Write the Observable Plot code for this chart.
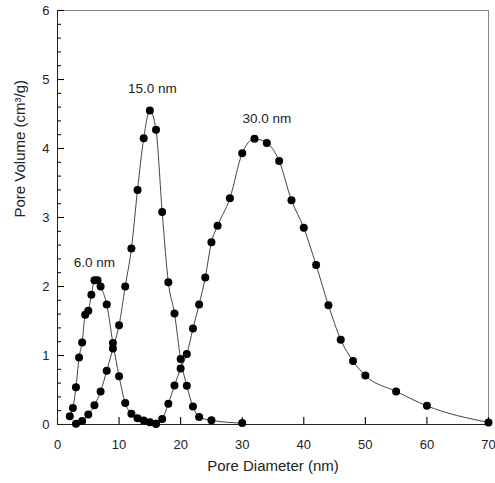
<!DOCTYPE html>
<html>
<head>
<meta charset="utf-8">
<script src="https://cdn.jsdelivr.net/npm/d3@7"></script>
<script src="https://cdn.jsdelivr.net/npm/@observablehq/plot@0.6"></script>
<style>
  html, body { margin: 0; padding: 0; background: #fff; }
  #chart svg { font-family: "Liberation Sans", Arial, sans-serif; }
</style>
</head>
<body>
<div id="chart"></div>
<script>
// Series: [pore diameter (nm), pore volume (cm3/g)]
const series6 = [[2,0.12],[2.5,0.24],[3,0.54],[3.5,0.97],[4,1.19],[4.5,1.59],[5,1.65],[5.5,1.88],[6,2.09],[6.5,2.09],[7,2.0],[8,1.74],[9,1.18],[10,0.70],[11,0.31],[12,0.155],[13,0.09],[14,0.058],[15,0.034],[16,0.01]];
const series15 = [[3,0.01],[4,0.05],[5,0.145],[6,0.28],[7,0.48],[8,0.78],[9,1.10],[10,1.44],[11,2.0],[12,2.55],[13,3.40],[14,4.15],[15,4.55],[16,4.27],[17,3.08],[18,2.06],[19,1.61],[20,0.95],[21,0.56],[22,0.26],[23,0.11],[25,0.06],[30,0.02]];
const series30 = [[16,0.01],[17,0.08],[18,0.30],[19,0.565],[20,0.81],[21,1.02],[22,1.39],[23,1.74],[24,2.13],[25,2.64],[26,2.88],[28,3.28],[30,3.93],[32,4.14],[34,4.08],[36,3.82],[38,3.25],[40,2.85],[42,2.31],[44,1.73],[46,1.23],[48,0.92],[50,0.71],[55,0.48],[60,0.27],[70,0.03]];
const peakLabels = ["6.0 nm", "15.0 nm", "30.0 nm"];
const peakLabelX = [6, 15.4, 34];
const peakLabelY = [2.35, 4.87, 4.43];
const xTitle = "Pore Diameter (nm)";
const yTitle = "Pore Volume (cm³/g)";
const xTicks = [0,10,20,30,40,50,60,70];
const yTicks = [0,1,2,3,4,5,6];
const yMinorTicks = d3.range(0, 6.01, 0.2).map(v => +v.toFixed(1)).filter(v => !yTicks.includes(v));

const toRows = (arr, name) => arr.map(([x, y]) => ({x, y, series: name}));
const rows = [...toRows(series6, "6"), ...toRows(series15, "15"), ...toRows(series30, "30")];
const labels = peakLabels.map((t, i) => ({t, x: peakLabelX[i], y: peakLabelY[i]}));

const W = 495, H = 483, ML = 57, MR = 7, MT = 10, MB = 59;
const innerW = W - ML - MR, innerH = H - MT - MB;

const chart = Plot.plot({
  width: W,
  height: H,
  marginLeft: ML,
  marginRight: MR,
  marginTop: MT,
  marginBottom: MB,
  style: {fontSize: "13px", color: "#222", background: "#fff", fontFamily: "Liberation Sans, Arial, sans-serif"},
  x: {domain: [0, 70]},
  y: {domain: [0, 6]},
  marks: [
    Plot.frame({stroke: "#888"}),
    // tick labels
    Plot.axisX(xTicks, {tickSize: 0, tickPadding: 15, tickFormat: "d", label: null}),
    Plot.axisY(yTicks, {tickSize: 0, tickPadding: 8, tickFormat: "d", label: null}),
    // inward ticks
    Plot.ruleX(xTicks, {insetTop: innerH - 7, stroke: "#000", strokeWidth: 1.1}),
    Plot.ruleY(yTicks, {insetRight: innerW - 7, stroke: "#000", strokeWidth: 1.1}),
    Plot.ruleY(yMinorTicks, {insetRight: innerW - 4, stroke: "#000", strokeWidth: 1}),
    Plot.ruleX([0], {stroke: "#222"}),
    Plot.ruleY([0], {stroke: "#222"}),
    // axis titles
    Plot.text([xTitle], {frameAnchor: "bottom", dy: 42, fontSize: 15, fill: "#222", lineAnchor: "middle"}),
    Plot.text([yTitle], {frameAnchor: "left", dx: -37, rotate: -90, fontSize: 15, fill: "#222", lineAnchor: "middle"}),
    Plot.line(rows, {x: "x", y: "y", z: "series", stroke: "#444", strokeWidth: 1, curve: "monotone-x"}),
    Plot.dot(rows, {x: "x", y: "y", r: 4, fill: "#000", stroke: "none"}),
    Plot.text(labels, {x: "x", y: "y", text: "t", fontSize: 13.5, fill: "#222", textAnchor: "middle"})
  ]
});
document.getElementById("chart").appendChild(chart);
</script>
</body>
</html>
